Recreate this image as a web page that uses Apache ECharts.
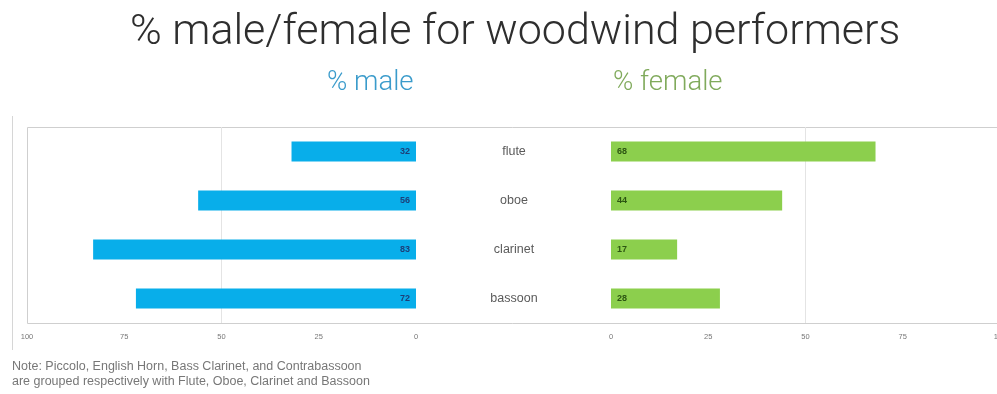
<!DOCTYPE html>
<html>
<head>
<meta charset="utf-8">
<script src="https://cdn.jsdelivr.net/npm/echarts@6/dist/echarts.min.js"></script>
<style>
  html, body { margin: 0; padding: 0; background: #fff; }
  #chart { width: 997px; height: 394px; }
</style>
</head>
<body>
<div id="chart"></div>
<script>
// Woodwind sections: share of male and female performers (%)
const instruments = ['flute', 'oboe', 'clarinet', 'bassoon'];
const malePct = [32, 56, 83, 72];
const femalePct = [68, 44, 17, 28];
const axisTicks = [0, 25, 50, 75, 100];

const titleText = '% male/female for woodwind performers';
const maleHeading = '% male';
const femaleHeading = '% female';
const noteLines = [
  'Note: Piccolo, English Horn, Bass Clarinet, and Contrabassoon',
  'are grouped respectively with Flute, Oboe, Clarinet and Bassoon'
];

const MALE = '#08aeea';
const FEMALE = '#8ccf4d';
const LIGHT = 'Roboto, "Liberation Sans", sans-serif';
const PLAIN = '"Liberation Sans", Arial, sans-serif';

const chart = echarts.init(document.getElementById('chart'), null, { renderer: 'canvas' });

const tickMin = axisTicks[0];
const tickMax = axisTicks[axisTicks.length - 1];
const tickStep = axisTicks[1] - axisTicks[0];
// only the middle (50 %) line of each panel is drawn
const gridColors = axisTicks.map(t => (t === 50 ? '#e4e4e4' : 'rgba(0,0,0,0)'));

const valueAxis = (gridIndex, inverse) => ({
  type: 'value',
  gridIndex,
  min: tickMin,
  max: tickMax,
  interval: tickStep,
  inverse,
  axisLine: { show: false },
  axisTick: { show: false },
  splitLine: { show: true, lineStyle: { color: gridColors, width: 1 } },
  axisLabel: { fontSize: 7.5, color: '#777', margin: 10, fontFamily: PLAIN }
});

chart.setOption({
  animation: false,
  backgroundColor: '#fff',
  title: [
    {
      text: titleText,
      left: 125,
      top: 7,
      textStyle: { fontFamily: LIGHT, fontWeight: 300, fontSize: 43, color: '#2e2e2e' }
    },
    {
      text: maleHeading,
      left: 322,
      top: 64,
      textStyle: { fontFamily: LIGHT, fontWeight: 300, fontSize: 27.5, color: '#3a9bcb' }
    },
    {
      text: femaleHeading,
      left: 608,
      top: 64,
      textStyle: { fontFamily: LIGHT, fontWeight: 300, fontSize: 27.5, color: '#80aa5c' }
    }
  ],
  graphic: [
    {
      type: 'rect',
      silent: true,
      z: -1,
      shape: { x: 27.5, y: 127.5, width: 990, height: 196 },
      style: { fill: 'none', stroke: '#cfcfcf', lineWidth: 1 }
    },
    {
      type: 'line',
      silent: true,
      shape: { x1: 12.5, y1: 116, x2: 12.5, y2: 350 },
      style: { stroke: '#d6d6d6', lineWidth: 1 }
    },
    {
      type: 'text',
      left: 12,
      top: 359,
      style: {
        text: noteLines.join('\n'),
        font: '12.5px ' + PLAIN,
        fill: '#777',
        lineHeight: 15
      }
    }
  ],
  grid: [
    { left: 27, right: 581, top: 127, bottom: 71, outerBoundsMode: 'none', containLabel: false },
    { left: 611, width: 389, top: 127, bottom: 71, outerBoundsMode: 'none', containLabel: false }
  ],
  xAxis: [valueAxis(0, true), valueAxis(1, false)],
  yAxis: [
    {
      type: 'category',
      gridIndex: 0,
      data: instruments,
      inverse: true,
      position: 'right',
      show: false
    },
    {
      type: 'category',
      gridIndex: 1,
      data: instruments,
      inverse: true,
      axisLine: { show: false },
      axisTick: { show: false },
      axisLabel: {
        align: 'center',
        margin: 97,
        fontSize: 12.5,
        color: '#5a5a5a',
        fontFamily: PLAIN
      }
    }
  ],
  series: [
    {
      name: maleHeading,
      type: 'bar',
      xAxisIndex: 0,
      yAxisIndex: 0,
      data: malePct,
      barWidth: 20,
      itemStyle: { color: MALE },
      label: {
        show: true,
        position: 'insideRight',
        distance: 6,
        fontSize: 9,
        fontWeight: 'bold',
        color: '#1d3f78',
        fontFamily: PLAIN
      }
    },
    {
      name: femaleHeading,
      type: 'bar',
      xAxisIndex: 1,
      yAxisIndex: 1,
      data: femalePct,
      barWidth: 20,
      itemStyle: { color: FEMALE },
      label: {
        show: true,
        position: 'insideLeft',
        distance: 6,
        fontSize: 9,
        fontWeight: 'bold',
        color: '#2c5512',
        fontFamily: PLAIN
      }
    }
  ]
});
</script>
</body>
</html>
